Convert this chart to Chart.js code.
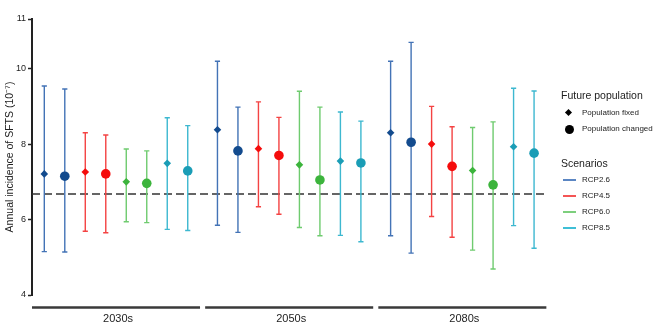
<!DOCTYPE html>
<html>
<head>
<meta charset="utf-8">
<script src="https://cdn.jsdelivr.net/npm/chart.js@4.4.1/dist/chart.umd.min.js"></script>
<style>
  html, body { margin: 0; padding: 0; background: #fff; }
  #wrap { position: relative; width: 664px; height: 325px; font-family: "Liberation Sans", Arial, sans-serif; color: #222; }
  #chart { position: absolute; left: 0; top: 0; }
  .lg { position: absolute; white-space: nowrap; }
  .head { font-size: 10.5px; line-height: 12px; }
  .item { font-size: 8px; line-height: 10px; }
  .mk { position: absolute; background: #000; }
  .ln { position: absolute; height: 2px; width: 13px; }
</style>
</head>
<body>
<div id="wrap">
  <canvas id="chart" width="664" height="325"></canvas>

  <div class="lg head" style="left:561px; top:89px;">Future population</div>
  <div class="mk" style="left:566px; top:110px; width:5px; height:5px; transform:rotate(45deg);"></div>
  <div class="lg item" style="left:582px; top:108px;">Population fixed</div>
  <div class="mk" style="left:564.5px; top:124.5px; width:9px; height:9px; border-radius:50%;"></div>
  <div class="lg item" style="left:582px; top:124px;">Population changed</div>

  <div class="lg head" style="left:561px; top:157px;">Scenarios</div>
  <div class="ln" style="left:563px; top:179px; background:#5b86c3;"></div>
  <div class="lg item" style="left:582px; top:175px;">RCP2.6</div>
  <div class="ln" style="left:563px; top:195px; background:#f45555;"></div>
  <div class="lg item" style="left:582px; top:191px;">RCP4.5</div>
  <div class="ln" style="left:563px; top:211px; background:#7dcf7d;"></div>
  <div class="lg item" style="left:582px; top:207px;">RCP6.0</div>
  <div class="ln" style="left:563px; top:227px; background:#3fbfd6;"></div>
  <div class="lg item" style="left:582px; top:223px;">RCP8.5</div>
</div>

<script>
// periods along the bottom, scenarios in each period, two population assumptions per scenario
const periods = ['2030s', '2050s', '2080s'];
const scenarios = ['RCP2.6', 'RCP4.5', 'RCP6.0', 'RCP8.5'];
const populations = ['Population fixed', 'Population changed'];

// order in every array: 2030s fixed, 2030s changed, 2050s fixed, 2050s changed, 2080s fixed, 2080s changed
const rcp26Mean  = [7.21, 7.15, 8.38, 7.82, 8.30, 8.05];
const rcp26Lower = [5.15, 5.14, 5.85, 5.66, 5.57, 5.11];
const rcp26Upper = [9.54, 9.46, 10.15, 8.98, 10.15, 10.53];

const rcp45Mean  = [7.26, 7.21, 7.88, 7.70, 8.00, 7.41];
const rcp45Lower = [5.69, 5.65, 6.34, 6.14, 6.08, 5.53];
const rcp45Upper = [8.30, 8.24, 9.12, 8.71, 9.00, 8.46];

const rcp60Mean  = [7.00, 6.96, 7.45, 7.05, 7.30, 6.92];
const rcp60Lower = [5.94, 5.92, 5.79, 5.57, 5.19, 4.69];
const rcp60Upper = [7.87, 7.82, 9.40, 8.98, 8.44, 8.59];

const rcp85Mean  = [7.49, 7.29, 7.55, 7.50, 7.93, 7.76];
const rcp85Lower = [5.74, 5.71, 5.58, 5.41, 5.84, 5.24];
const rcp85Upper = [8.70, 8.49, 8.85, 8.61, 9.48, 9.41];

const baseline = 6.68;          // current incidence, dashed reference line
const yTicks = [4, 6, 8, 10, 11];

const means  = [rcp26Mean, rcp45Mean, rcp60Mean, rcp85Mean];
const lowers = [rcp26Lower, rcp45Lower, rcp60Lower, rcp85Lower];
const uppers = [rcp26Upper, rcp45Upper, rcp60Upper, rcp85Upper];

const markerColors  = ['#134b8e', '#f50c0c', '#3cb43c', '#1a9db6'];
const whiskerColors = ['#4373b6', '#f44343', '#6fcb6f', '#3db8d0'];

// x layout: 8 slots per period, a little extra gap between periods
const GROUP = 8.45;
const xPos = (g, s, p) => g * GROUP + s * 2 + p;

// y axis runs 4..10 evenly, the 10..11 stretch is drawn taller
const SPLIT = 0.82;
function toDecimal(v) {
  if (v <= 10) return (v - 4) / 6 * SPLIT;
  return SPLIT + (v - 10) * (1 - SPLIT);
}
function fromDecimal(d) {
  if (d <= SPLIT) return 4 + d / SPLIT * 6;
  return 10 + (d - SPLIT) / (1 - SPLIT);
}

class SegmentedScale extends Chart.LinearScale {
  getPixelForValue(value) {
    if (value === null || value === undefined) return NaN;
    return this.getPixelForDecimal(toDecimal(value));
  }
  getValueForPixel(pixel) {
    return fromDecimal(this.getDecimalForPixel(pixel));
  }
}
SegmentedScale.id = 'segmented';
SegmentedScale.defaults = Chart.LinearScale.defaults;
Chart.register(SegmentedScale);

const datasets = [];
scenarios.forEach((name, s) => {
  populations.forEach((pop, p) => {
    datasets.push({
      label: name + ' ' + pop,
      data: periods.map((_, g) => ({ x: xPos(g, s, p), y: means[s][g * 2 + p] })),
      pointStyle: p === 0 ? 'rectRot' : 'circle',
      pointRadius: p === 0 ? 3.8 : 4.8,
      backgroundColor: markerColors[s],
      borderColor: markerColors[s],
      borderWidth: 0,
      showLine: false
    });
  });
});

// error bars, baseline and the period brackets under the plot
const extras = {
  id: 'extras',
  beforeDatasetsDraw(chart) {
    const { ctx, scales: { x, y } } = chart;
    ctx.save();

    // dashed baseline
    ctx.strokeStyle = '#333';
    ctx.lineWidth = 1.5;
    ctx.setLineDash([8, 4]);
    ctx.beginPath();
    ctx.moveTo(x.getPixelForValue(-0.6), y.getPixelForValue(baseline));
    ctx.lineTo(x.getPixelForValue(2 * GROUP + 7.6), y.getPixelForValue(baseline));
    ctx.stroke();
    ctx.setLineDash([]);

    // whiskers with caps
    ctx.lineWidth = 1.4;
    periods.forEach((_, g) => {
      scenarios.forEach((__, s) => {
        for (let p = 0; p < 2; p++) {
          const px = x.getPixelForValue(xPos(g, s, p));
          const lo = y.getPixelForValue(lowers[s][g * 2 + p]);
          const hi = y.getPixelForValue(uppers[s][g * 2 + p]);
          ctx.strokeStyle = whiskerColors[s];
          ctx.beginPath();
          ctx.moveTo(px, lo);
          ctx.lineTo(px, hi);
          ctx.moveTo(px - 2.6, lo);
          ctx.lineTo(px + 2.6, lo);
          ctx.moveTo(px - 2.6, hi);
          ctx.lineTo(px + 2.6, hi);
          ctx.stroke();
        }
      });
    });
    ctx.restore();
  },
  afterDraw(chart) {
    const { ctx, scales: { x } } = chart;
    ctx.save();
    ctx.strokeStyle = '#3a3a3a';
    ctx.lineWidth = 2.5;
    ctx.fillStyle = '#222';
    ctx.font = '11px "Liberation Sans", Arial, sans-serif';
    ctx.textAlign = 'center';
    ctx.textBaseline = 'middle';
    periods.forEach((label, g) => {
      const x0 = x.getPixelForValue(g * GROUP - 0.6);
      const x1 = x.getPixelForValue(g * GROUP + 7.6);
      ctx.beginPath();
      ctx.moveTo(x0, 307.5);
      ctx.lineTo(x1, 307.5);
      ctx.stroke();
      ctx.fillText(label, (x0 + x1) / 2 + 2, 319);
    });
    ctx.restore();
  }
};

new Chart(document.getElementById('chart'), {
  type: 'scatter',
  data: { datasets },
  plugins: [extras],
  options: {
    responsive: false,
    animation: false,
    layout: { padding: { top: 19, bottom: 30, right: 116, left: 0 } },
    plugins: { legend: { display: false }, tooltip: { enabled: false } },
    scales: {
      x: {
        type: 'linear',
        display: false,
        min: -0.6,
        max: 2 * GROUP + 7.6 + 0.08
      },
      y: {
        type: 'segmented',
        min: 4,
        max: 11,
        afterBuildTicks(scale) {
          scale.ticks = yTicks.map(v => ({ value: v }));
        },
        afterFit(scale) { scale.width = 32; },
        border: { display: true, color: '#222', width: 2 },
        grid: { drawOnChartArea: false, drawTicks: true, tickLength: 4, tickColor: '#222', tickWidth: 1.5 },
        ticks: {
          color: '#222',
          padding: 2,
          font: { family: '"Liberation Sans", Arial, sans-serif', size: 9 },
          callback: v => String(v)
        },
        title: {
          display: true,
          text: 'Annual incidence of SFTS (10⁻⁷)',
          color: '#222',
          padding: { top: 4, bottom: 0 },
          font: { family: '"Liberation Sans", Arial, sans-serif', size: 10.5 }
        }
      }
    }
  }
});
</script>
</body>
</html>
